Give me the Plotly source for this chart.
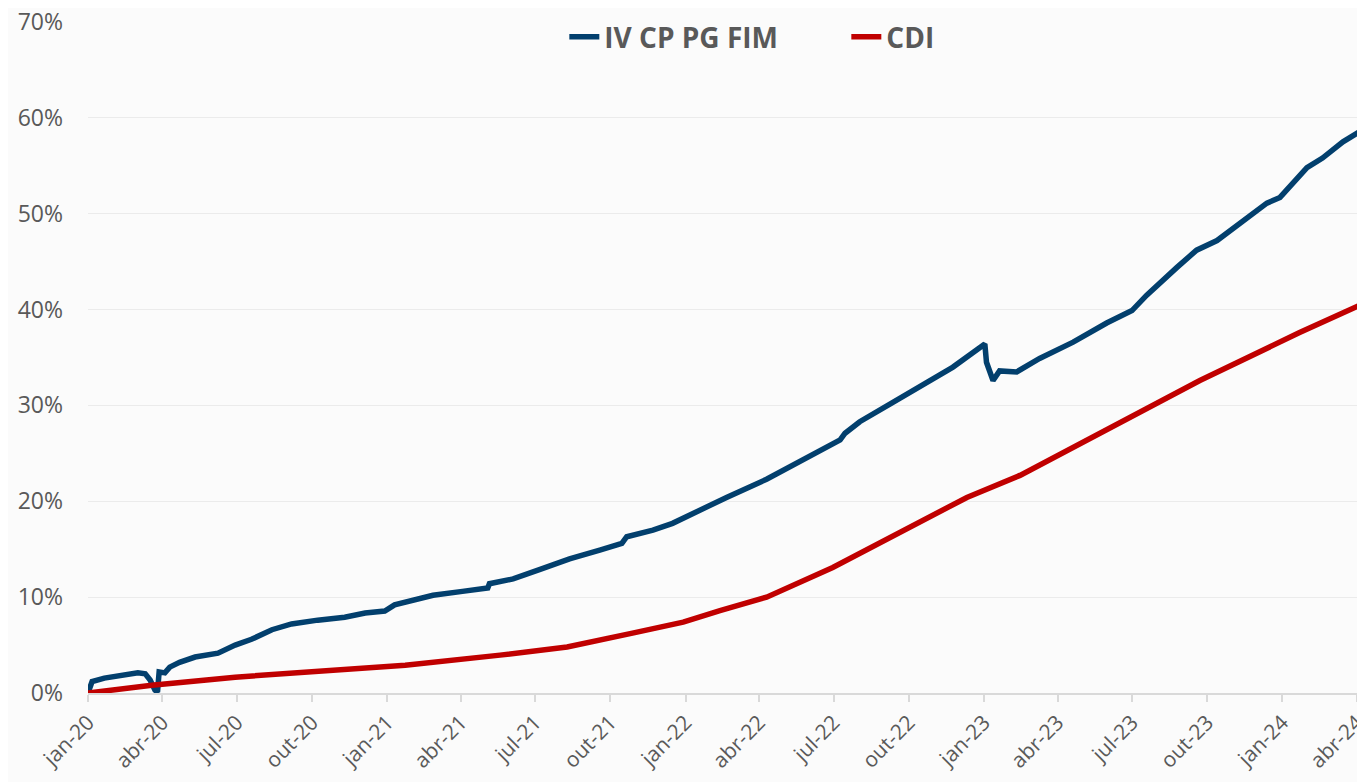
import plotly.graph_objects as go

# --- Data (cumulative return, fraction) ---
fund_dates = [
    "2020-01-01", "2020-01-06", "2020-01-21", "2020-02-15", "2020-03-02", "2020-03-11",
    "2020-03-17", "2020-03-23", "2020-03-26", "2020-03-28", "2020-04-04", "2020-04-10",
    "2020-04-22", "2020-05-11", "2020-06-08", "2020-06-29", "2020-07-19", "2020-08-13",
    "2020-09-06", "2020-10-08", "2020-11-10", "2020-12-05", "2020-12-29", "2021-01-10",
    "2021-01-23", "2021-02-26", "2021-04-03", "2021-05-04", "2021-05-06", "2021-06-04",
    "2021-07-07", "2021-08-12", "2021-09-18", "2021-10-15", "2021-10-21", "2021-11-22",
    "2021-12-16", "2022-01-18", "2022-02-09", "2022-02-20", "2022-04-10", "2022-05-29",
    "2022-07-09", "2022-07-15", "2022-08-02", "2022-09-11", "2022-10-23", "2022-11-24",
    "2023-01-02", "2023-01-04", "2023-01-12", "2023-01-20", "2023-02-10", "2023-03-10",
    "2023-04-20", "2023-05-31", "2023-07-01", "2023-07-19", "2023-08-25", "2023-09-18",
    "2023-10-13", "2023-11-06", "2023-12-13", "2023-12-29", "2024-01-31", "2024-02-19",
    "2024-03-15", "2024-04-11",
]
fund_values = [
    0.000, 0.012, 0.0155, 0.019, 0.021, 0.020,
    0.0135, 0.003, 0.001, 0.022, 0.021, 0.027,
    0.032, 0.0375, 0.0415, 0.050, 0.056, 0.066,
    0.072, 0.076, 0.079, 0.0835, 0.0855, 0.092,
    0.095, 0.102, 0.106, 0.1095, 0.114, 0.119,
    0.129, 0.140, 0.149, 0.156, 0.163, 0.170,
    0.177, 0.191, 0.199, 0.204, 0.223, 0.246,
    0.264, 0.271, 0.283, 0.303, 0.324, 0.340,
    0.364, 0.345, 0.326, 0.336, 0.335, 0.349,
    0.366, 0.386, 0.399, 0.415, 0.444, 0.462,
    0.472, 0.488, 0.511, 0.517, 0.548, 0.558,
    0.575, 0.589,
]

cdi_dates = [
    "2020-01-01", "2020-03-19", "2020-06-29", "2020-10-08", "2021-01-23", "2021-05-19",
    "2021-08-09", "2021-10-28", "2021-12-29", "2022-02-12", "2022-04-10", "2022-06-30",
    "2022-09-20", "2022-12-11", "2023-02-14", "2023-05-23", "2023-09-22", "2024-01-22",
    "2024-04-11",
]
cdi_values = [
    0.000, 0.008, 0.0165, 0.022, 0.029, 0.0395,
    0.048, 0.0625, 0.074, 0.086, 0.100, 0.131,
    0.168, 0.204, 0.227, 0.271, 0.326, 0.376,
    0.407,
]

tick_vals = [
    "2020-01-01", "2020-04-01", "2020-07-01", "2020-10-01", "2021-01-01", "2021-04-01",
    "2021-07-01", "2021-10-01", "2022-01-01", "2022-04-01", "2022-07-01", "2022-10-01",
    "2023-01-01", "2023-04-01", "2023-07-01", "2023-10-01", "2024-01-01", "2024-04-01",
]
tick_text = [
    "jan-20", "abr-20", "jul-20", "out-20", "jan-21", "abr-21",
    "jul-21", "out-21", "jan-22", "abr-22", "jul-22", "out-22",
    "jan-23", "abr-23", "jul-23", "out-23", "jan-24", "abr-24",
]

series_names = ["IV CP PG FIM", "CDI"]
series_colors = ["#023f6d", "#c00000"]

fig = go.Figure()
fig.add_trace(go.Scatter(x=fund_dates, y=fund_values, mode="lines", name=series_names[0],
                         line=dict(color=series_colors[0], width=5.5)))
fig.add_trace(go.Scatter(x=cdi_dates, y=cdi_values, mode="lines", name=series_names[1],
                         line=dict(color=series_colors[1], width=5.5)))

fig.update_layout(
    width=1357, height=774,
    margin=dict(l=80, r=0, t=14, b=89),
    paper_bgcolor="#fbfbfb",
    plot_bgcolor="rgba(0,0,0,0)",
    font=dict(family="Open Sans", color="#595959", size=22),
    showlegend=True,
    legend=dict(orientation="h", x=0.373, xanchor="left", y=1.015, yanchor="top",
                bgcolor="rgba(0,0,0,0)",
                font=dict(family="Open Sans", size=28, color="#595959", weight="bold"),
                entrywidth=237, entrywidthmode="pixels", tracegroupgap=0),
    xaxis=dict(
        type="date",
        range=["2020-01-01", "2024-04-11"],
        tickmode="array", tickvals=tick_vals, ticktext=tick_text,
        tickangle=-45,
        tickfont=dict(size=21, color="#595959"),
        showgrid=False,
        showline=True, linecolor="#d9d9d9", linewidth=2,
        ticks="outside", ticklen=7, tickcolor="#d9d9d9", tickwidth=2,
        zeroline=False, automargin=False, ticklabeloverflow="allow",
    ),
    yaxis=dict(
        range=[0, 0.70],
        tickvals=[0, 0.1, 0.2, 0.3, 0.4, 0.5, 0.6, 0.7],
        tickformat=".0%",
        tickfont=dict(size=23, color="#595959"),
        showgrid=True, gridcolor="#ebebeb", gridwidth=1,
        zeroline=False, showline=False,
        ticks="", ticklabelstandoff=24, automargin=False, ticklabeloverflow="allow",
    ),
)

fig.write_html("out.html")
